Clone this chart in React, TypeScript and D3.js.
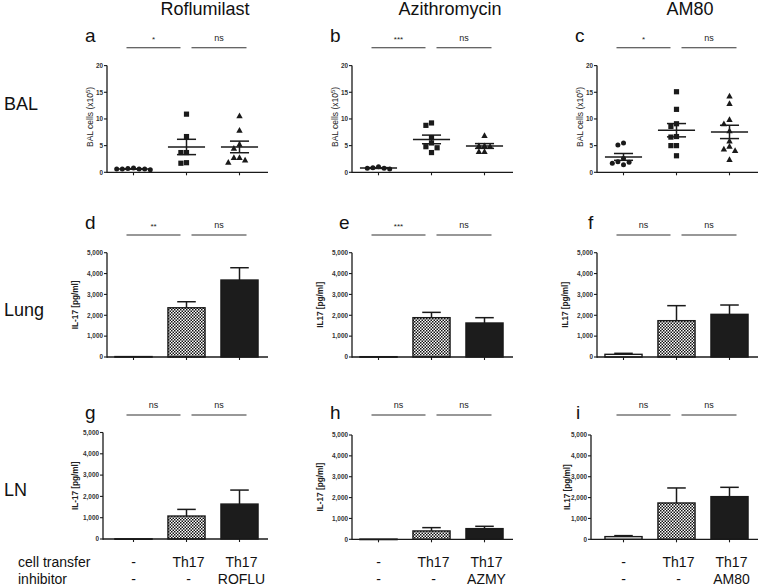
import React from "react";
import * as d3 from "d3";

// ---------- data ----------
const drugs = ["Roflumilast", "Azithromycin", "AM80"];
const rowLabels = ["BAL", "Lung", "LN"];
const panelLetters = [["a", "b", "c"], ["d", "e", "f"], ["g", "h", "i"]];
const cellTransfer = ["-", "Th17", "Th17"];
const inhibitorRow = [["-", "-", "ROFLU"], ["-", "-", "AZMY"], ["-", "-", "AM80"]];

const balTicks = [0, 5, 10, 15, 20];
const il17Ticks = [0, 1000, 2000, 3000, 4000, 5000];

// BAL cells (x10^5), per group: control, Th17, Th17 + inhibitor
const balRoflu = [
  [0.6, 0.6, 0.7, 0.8, 0.6, 0.6, 0.5],
  [10.9, 6.7, 3.7, 3.7, 1.7, 1.8],
  [10.6, 7.9, 5.25, 4.5, 2.8, 1.9, 2.3, 2.8],
];
const balAzmy = [
  [1.05, 0.75, 0.6, 0.75, 0.85],
  [9.25, 8.8, 6.5, 5.5, 4.8, 4.6, 3.7],
  [6.9, 5.0, 5.0, 4.9, 3.9, 3.9],
];
const balAm80 = [
  [5.1, 5.5, 2.6, 2.0, 1.4, 1.7, 1.9],
  [15.1, 11.8, 9.1, 8.6, 6.6, 6.7, 5.0, 5.0, 3.1],
  [14.3, 12.9, 9.9, 9.1, 7.8, 5.9, 4.4, 4.1, 4.9, 2.4],
];

// IL-17 (pg/ml) means and SEM
const lungRofluMean = [20, 2360, 3690];
const lungRofluSem = [0, 290, 590];
const lungAzmyMean = [15, 1885, 1630];
const lungAzmySem = [0, 255, 255];
const lungAm80Mean = [128, 1741, 2045];
const lungAm80Sem = [48, 720, 447];

const lnRofluMean = [10, 1078, 1640];
const lnRofluSem = [0, 312, 657];
const lnAzmyMean = [10, 400, 511];
const lnAzmySem = [0, 159, 112];
const lnAm80Mean = [128, 1741, 2045];
const lnAm80Sem = [48, 720, 447];

const sigRow1 = [["*", "ns"], ["***", "ns"], ["*", "ns"]];
const sigRow2 = [["**", "ns"], ["***", "ns"], ["ns", "ns"]];
const sigRow3 = [["ns", "ns"], ["ns", "ns"], ["ns", "ns"]];

const ylabRow2 = ["IL-17 [pg/ml]", "IL17 [pg/ml]", "IL17 [pg/ml]"];
const ylabRow3 = ["IL-17 [pg/ml]", "IL-17 [pg/ml]", "IL17 [pg/ml]"];

// ---------- layout ----------
const W = 760, H = 585;
const colX0 = [107, 352, 597];
const catW = 159;
const rowY = [
  [[65.6, 172.3], [65.6, 172.3], [65.6, 172.3]],
  [[252.7, 357], [252.7, 357], [252.7, 357]],
  [[432.5, 539], [435, 539.3], [435, 539.3]],
];
const axisXs = [[107, 352, 597], [107, 352, 597], [103, 352, 591]];
const labelXs = [[93, 338, 583], [78, 323, 568], [78, 323, 570]];
const sigY = [47.7, 235, 415];
const letterX = [[85, 330, 575], [85, 339, 588], [85, 330, 576]];
const letterY = [42, 229, 419];
const titleX = [205, 450, 690];
const font = "'Liberation Sans', Arial, Helvetica, sans-serif";
const INK = "#1a1a1a";

function swarm(vals: number[], y: (v: number) => number, step: number, minD: number) {
  const idx = vals.map((v, i) => i).sort((a, b) => vals[b] - vals[a]);
  const placed: { x: number; y: number }[] = [];
  const offs = new Array(vals.length).fill(0);
  for (const i of idx) {
    const py = y(vals[i]);
    for (let k = 0; k < 40; k++) {
      const slot = k === 0 ? 0 : (k % 2 === 1 ? -Math.ceil(k / 2) : Math.ceil(k / 2));
      const px = slot * step;
      const hit = placed.some((p) => Math.abs(p.y - py) < minD && Math.abs(p.x - px) < minD);
      if (!hit) {
        placed.push({ x: px, y: py });
        offs[i] = px;
        break;
      }
    }
  }
  return offs;
}

function Marker({ kind, x, y }: { kind: number; x: number; y: number }) {
  if (kind === 0) return <circle cx={x} cy={y} r={2.5} fill={INK} />;
  if (kind === 1) return <rect x={x - 2.6} y={y - 2.6} width={5.2} height={5.2} fill={INK} />;
  const s = 3.2;
  return <path d={`M${x},${y - s}L${x + s},${y + s * 0.8}L${x - s},${y + s * 0.8}Z`} fill={INK} />;
}

function YAxis({ ax, y, ticks, fmt }: { ax: number; y: d3.ScaleLinear<number, number>; ticks: number[]; fmt: (v: number) => string }) {
  const [r0, r1] = y.range();
  return (
    <g>
      <line x1={ax} x2={ax} y1={r0 + 0.7} y2={r1} stroke={INK} strokeWidth={1.3} />
      {ticks.map((t) => (
        <g key={t}>
          <line x1={ax - 3} x2={ax} y1={y(t)} y2={y(t)} stroke={INK} strokeWidth={1.1} />
          <text x={ax - 4} y={y(t)} dy="0.35em" textAnchor="end" fontSize={6.4} fontWeight="bold" fontFamily={font} fill="#333">
            {fmt(t)}
          </text>
        </g>
      ))}
    </g>
  );
}

function XAxis({ ax, x, yPos }: { ax: number; x: d3.ScaleBand<number>; yPos: number }) {
  const [, r1] = x.range();
  return (
    <g>
      <line x1={ax} x2={r1 + 2} y1={yPos} y2={yPos} stroke={INK} strokeWidth={1.3} />
      {x.domain().map((c) => (
        <line key={c} x1={x(c)! + x.bandwidth() / 2} x2={x(c)! + x.bandwidth() / 2} y1={yPos} y2={yPos + 3} stroke={INK} strokeWidth={1.1} />
      ))}
    </g>
  );
}

function SigBars({ x, yPos, labels }: { x: d3.ScaleBand<number>; yPos: number; labels: string[] }) {
  const c = (i: number) => x(i)! + x.bandwidth() / 2;
  const segs = [
    [c(0) - 7, c(1) - 6],
    [c(1) + 5, c(2) + 7],
  ];
  return (
    <g>
      {segs.map(([a, b], i) => (
        <g key={i}>
          <line x1={a} x2={b} y1={yPos} y2={yPos} stroke="#333" strokeWidth={1.1} />
          <text x={(a + b) / 2} y={yPos - (labels[i] === "ns" ? 7 : 6)} textAnchor="middle" fontSize={labels[i] === "ns" ? 9 : 8} fontFamily={font} fill="#222">
            {labels[i]}
          </text>
        </g>
      ))}
    </g>
  );
}

function ScatterPanel({ col, data, sig }: { col: number; data: number[][]; sig: string[] }) {
  const [yt, yb] = rowY[0][col];
  const x = d3.scaleBand<number>().domain([0, 1, 2]).range([colX0[col], colX0[col] + catW]);
  const y = d3.scaleLinear().domain([0, 20]).range([yb, yt]);
  const bw = x.bandwidth();
  const lx = labelXs[0][col];
  const cy = (yt + yb) / 2 - 2;
  return (
    <g>
      <YAxis ax={axisXs[0][col]} y={y} ticks={balTicks} fmt={(v) => String(v)} />
      <XAxis ax={axisXs[0][col]} x={x} yPos={yb} />
      <SigBars x={x} yPos={sigY[0]} labels={sig} />
      <text transform={`translate(${lx},${cy}) rotate(-90)`} textAnchor="middle" fontSize={8.5} fontFamily={font} fill="#222">
        BAL cells (x10<tspan dy={-3.5} fontSize={6}>5</tspan><tspan dy={3.5}>)</tspan>
      </text>
      {data.map((vals, g) => {
        const cx = x(g)! + bw / 2;
        const offs = swarm(vals, y, 5.6, 5.0);
        const m = d3.mean(vals)!;
        const sem = d3.deviation(vals)! / Math.sqrt(vals.length);
        return (
          <g key={g}>
            {vals.map((v, i) => (
              <Marker key={i} kind={g} x={cx + offs[i]} y={y(v)} />
            ))}
            <line x1={cx - bw * 0.35} x2={cx + bw * 0.35} y1={y(m)} y2={y(m)} stroke={INK} strokeWidth={1.5} />
            <line x1={cx} x2={cx} y1={y(m + sem)} y2={y(m - sem)} stroke={INK} strokeWidth={1.5} />
            <line x1={cx - bw * 0.18} x2={cx + bw * 0.18} y1={y(m + sem)} y2={y(m + sem)} stroke={INK} strokeWidth={1.5} />
            <line x1={cx - bw * 0.18} x2={cx + bw * 0.18} y1={y(m - sem)} y2={y(m - sem)} stroke={INK} strokeWidth={1.5} />
          </g>
        );
      })}
    </g>
  );
}

function BarPanel({ row, col, mean, sem, sig, ylab }: { row: number; col: number; mean: number[]; sem: number[]; sig: string[]; ylab: string }) {
  const [yt, yb] = rowY[row][col];
  const x = d3.scaleBand<number>().domain([0, 1, 2]).range([colX0[col], colX0[col] + catW]);
  const y = d3.scaleLinear().domain([0, 5000]).range([yb, yt]);
  const bw = x.bandwidth();
  const barW = bw * 0.7;
  const lx = labelXs[row][col];
  const cy = (yt + yb) / 2;
  const fills = ["#ffffff", "url(#checker)", "#1c1c1c"];
  return (
    <g>
      {mean.map((m, g) => {
        const cx = x(g)! + bw / 2;
        const top = y(m);
        const e = y(m + sem[g]);
        return (
          <g key={g}>
            {sem[g] > 0 && (
              <g>
                <line x1={cx} x2={cx} y1={top} y2={e} stroke={INK} strokeWidth={1.5} />
                <line x1={cx - barW / 4} x2={cx + barW / 4} y1={e} y2={e} stroke={INK} strokeWidth={1.5} />
              </g>
            )}
            <rect x={cx - barW / 2} y={top} width={barW} height={Math.max(0.5, yb - top)} fill={fills[g]} stroke={INK} strokeWidth={1.4} />
          </g>
        );
      })}
      <YAxis ax={axisXs[row][col]} y={y} ticks={il17Ticks} fmt={d3.format(",")} />
      <XAxis ax={axisXs[row][col]} x={x} yPos={yb} />
      <SigBars x={x} yPos={sigY[row]} labels={sig} />
      <text transform={`translate(${lx},${cy}) rotate(-90)`} textAnchor="middle" fontSize={8.2} fontWeight="bold" fontFamily={font} fill="#222">
        {ylab}
      </text>
    </g>
  );
}

export default function App() {
  const balData = [balRoflu, balAzmy, balAm80];
  const lungMeans = [lungRofluMean, lungAzmyMean, lungAm80Mean];
  const lungSems = [lungRofluSem, lungAzmySem, lungAm80Sem];
  const lnMeans = [lnRofluMean, lnAzmyMean, lnAm80Mean];
  const lnSems = [lnRofluSem, lnAzmySem, lnAm80Sem];
  const rowLabelY = [110, 316, 496];
  const row1Y = 566.5;
  const row2Y = 583.5;
  return (
    <svg width={W} height={H} style={{ position: "absolute", left: 0, top: 0, background: "#fff" }} fontFamily={font}>
      <defs>
        <pattern id="checker" width={3} height={3} patternUnits="userSpaceOnUse">
          <rect width={3} height={3} fill="#fff" />
          <rect width={1.5} height={1.5} fill="#111" />
          <rect x={1.5} y={1.5} width={1.5} height={1.5} fill="#111" />
        </pattern>
      </defs>
      <rect width={W} height={H} fill="#fff" />
      {drugs.map((d, c) => (
        <text key={d} x={titleX[c]} y={15} textAnchor="middle" fontSize={18} fill="#111">
          {d}
        </text>
      ))}
      {rowLabels.map((r, i) => (
        <text key={r} x={4} y={rowLabelY[i]} fontSize={18} fill="#111">
          {r}
        </text>
      ))}
      {panelLetters.map((row, ri) =>
        row.map((l, ci) => (
          <text key={l} x={letterX[ri][ci]} y={letterY[ri]} fontSize={19} fill="#111">
            {l}
          </text>
        ))
      )}
      {balData.map((d, c) => (
        <ScatterPanel key={c} col={c} data={d} sig={sigRow1[c]} />
      ))}
      {lungMeans.map((m, c) => (
        <BarPanel key={c} row={1} col={c} mean={m} sem={lungSems[c]} sig={sigRow2[c]} ylab={ylabRow2[c]} />
      ))}
      {lnMeans.map((m, c) => (
        <BarPanel key={c} row={2} col={c} mean={m} sem={lnSems[c]} sig={sigRow3[c]} ylab={ylabRow3[c]} />
      ))}
      <text x={18} y={row1Y} fontSize={14} fill="#111">cell transfer</text>
      <text x={18} y={row2Y} fontSize={14} fill="#111">inhibitor</text>
      {drugs.map((d, c) => {
        const x = d3.scaleBand<number>().domain([0, 1, 2]).range([colX0[c], colX0[c] + catW]);
        return (
          <g key={d}>
            {cellTransfer.map((t, g) => (
              <text key={"t" + g} x={x(g)! + x.bandwidth() / 2 + (g > 0 ? 2 : 0)} y={row1Y} textAnchor="middle" fontSize={14} fill="#111">
                {t}
              </text>
            ))}
            {inhibitorRow[c].map((t, g) => (
              <text key={"i" + g} x={x(g)! + x.bandwidth() / 2 + (g > 0 ? 2 : 0)} y={row2Y} textAnchor="middle" fontSize={14} fill="#111">
                {t}
              </text>
            ))}
          </g>
        );
      })}
    </svg>
  );
}
